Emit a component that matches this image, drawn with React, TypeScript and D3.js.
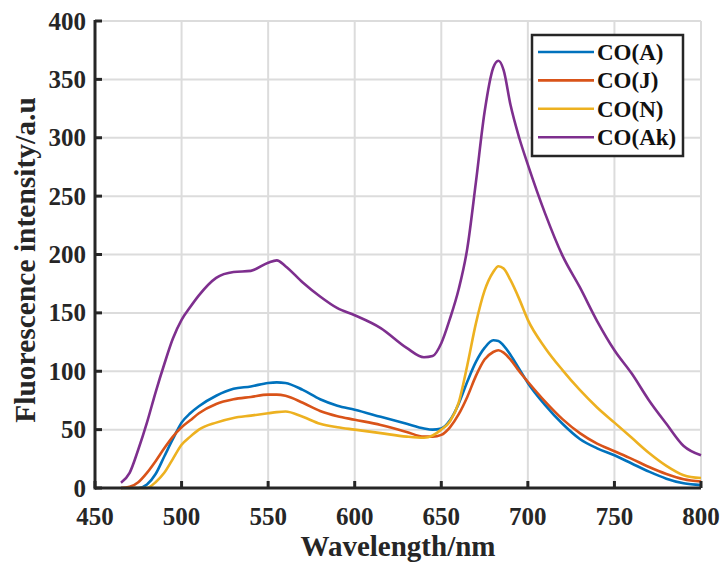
import React from 'react';
import { scaleLinear, line, curveMonotoneX, range } from 'd3';

const chartWidth = 723;
const chartHeight = 565;
const left = 95;
const right = 701;
const top = 21;
const bottom = 488;
const font = '"Liberation Serif", "Times New Roman", serif';

// wavelengths (nm) the curves were read at
const wavelength = [465, 470, 475, 480, 485, 490, 495, 500, 505, 510, 520, 530, 540, 550, 555, 560, 570, 580, 590, 600, 615, 630, 640, 645, 650, 655, 660, 665, 670, 675, 680, 683, 686, 690, 695, 700, 710, 720, 730, 740, 750, 760, 770, 780, 790, 800];

const coA = [0, 0, 0, 3, 12, 27, 42, 56, 64, 70, 79, 85, 87, 90, 90.5, 90, 84, 76, 70.5, 67, 61, 55, 51, 50, 51, 58, 72, 91, 108, 120, 126.5, 126, 122, 114, 102, 90, 71, 55, 42, 34, 28, 21, 14, 8, 4, 2.5];
const coJ = [0, 1, 5, 13, 23, 34, 44, 52, 58, 64, 72, 76, 78, 80, 80, 79, 73, 66, 61.5, 58.5, 54, 48, 44, 44, 45.5, 52, 63, 78, 96, 110, 116.5, 118, 116, 110, 100, 91, 74, 59, 47, 38, 31.5, 25, 18, 12, 7.5, 5.5];
const coN = [0, 0, 0, 0, 5, 13, 25, 37, 44, 50, 56, 60, 62, 64, 65, 65.5, 61, 55, 52, 50, 47, 44, 43, 45, 50, 57, 73, 105, 141, 169, 185, 190, 188, 178, 162, 144, 120, 101, 84, 69, 56, 43, 30, 19, 11, 8.5];
const coAk = [4.5, 13, 33, 56, 82, 106, 128, 144, 155, 165, 180, 185, 186, 193, 195, 190, 176, 164, 154, 148, 137, 120, 112, 113, 124, 145, 170, 205, 262, 322, 360, 366, 358, 328, 300, 277, 235, 199, 172, 143, 118, 98, 75, 55, 36, 28];

const seriesNames = ['CO(A)', 'CO(J)', 'CO(N)', 'CO(Ak)'];
const seriesValues = [coA, coJ, coN, coAk];
const seriesColors = ['#0072BD', '#D95319', '#EDB120', '#7E2F8E'];

const xTicks = range(450, 801, 50);
const yTicks = range(0, 401, 50);

const App = () => {
    const x = scaleLinear().domain([450, 800]).range([left, right]);
    const y = scaleLinear().domain([0, 400]).range([bottom, top]);
    const makeLine = line<number>()
        .x((d, i) => x(wavelength[i]))
        .y(d => y(d))
        .curve(curveMonotoneX);

    const legX = 532;
    const legY = 35;
    const rowH = 28.4;

    return (
        <svg width={chartWidth} height={chartHeight} style={{ position: 'absolute', left: 0, top: 0 }}>
            <rect width={chartWidth} height={chartHeight} fill="white" />
            {/* grid */}
            {xTicks.map(t => (
                <line key={'gx' + t} x1={x(t)} x2={x(t)} y1={top} y2={bottom} stroke="#dcdcdc" strokeWidth={2} />
            ))}
            {yTicks.map(t => (
                <line key={'gy' + t} x1={left} x2={right} y1={y(t)} y2={y(t)} stroke="#dcdcdc" strokeWidth={2} />
            ))}
            {/* curves */}
            {seriesValues.map((vals, i) => (
                <path key={seriesNames[i]} d={makeLine(vals) || ''} fill="none" stroke={seriesColors[i]} strokeWidth={2.6} strokeLinejoin="round" />
            ))}
            {/* axes */}
            <line x1={left} x2={right} y1={bottom} y2={bottom} stroke="#262626" strokeWidth={3} />
            <line x1={left} x2={left} y1={top - 1} y2={bottom + 1.5} stroke="#262626" strokeWidth={3} />
            {xTicks.map(t => (
                <g key={'tx' + t}>
                    <line x1={x(t)} x2={x(t)} y1={bottom} y2={bottom - 7} stroke="#262626" strokeWidth={3} />
                    <text x={x(t)} y={524.5} textAnchor="middle" fontFamily={font} fontWeight="bold" fontSize={25} fill="#262626">{t}</text>
                </g>
            ))}
            {yTicks.map(t => (
                <g key={'ty' + t}>
                    <line x1={left} x2={left + 7} y1={y(t)} y2={y(t)} stroke="#262626" strokeWidth={3} />
                    <text x={86} y={y(t)} dy="0.34em" textAnchor="end" fontFamily={font} fontWeight="bold" fontSize={25} fill="#262626">{t}</text>
                </g>
            ))}
            <text x={(left + right) / 2} y={556} textAnchor="middle" fontFamily={font} fontWeight="bold" fontSize={29} fill="#262626">Wavelength/nm</text>
            <text transform={`translate(35, 260) rotate(-90)`} textAnchor="middle" fontFamily={font} fontWeight="bold" fontSize={29.5} fill="#262626">Fluorescence intensity/a.u</text>
            {/* legend */}
            <rect x={legX} y={legY} width={151} height={121} fill="white" stroke="#262626" strokeWidth={2.5} />
            {seriesNames.map((name, i) => (
                <g key={'lg' + name}>
                    <line x1={538} x2={594} y1={legY + 17 + i * rowH} y2={legY + 17 + i * rowH} stroke={seriesColors[i]} strokeWidth={2.6} />
                    <text x={597} y={legY + 17 + i * rowH} dy="0.34em" fontFamily={font} fontWeight="bold" fontSize={23} fill="#111">{name}</text>
                </g>
            ))}
        </svg>
    );
};

export default App;
